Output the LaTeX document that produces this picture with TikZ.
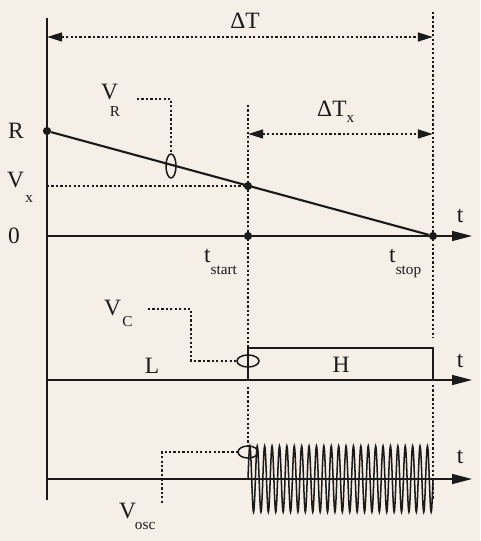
\documentclass[tikz,border=0pt]{standalone}
\usepackage{fontspec}
\setmainfont{Liberation Serif}
\usepackage{xcolor}
\usetikzlibrary{arrows.meta}
\definecolor{ink}{HTML}{1A1A1A}
\definecolor{paper}{HTML}{F6EFE8}
\newcommand{\lsub}[2]{\raisebox{-#1}{\fontsize{13}{13}\selectfont #2}}

\begin{document}
\begin{tikzpicture}[x=0.03cm,y=-0.03cm,ink,
  ax/.style={line width=1.2pt,-{Triangle[length=17pt,width=8.5pt]}},
  dots/.style={line width=1.9pt,dash pattern=on 1.9pt off 1.9pt},
  span/.style={dots,{Triangle[length=13pt,width=7.5pt]}-{Triangle[length=13pt,width=7.5pt]}},
  ramp/.style={line width=1.8pt},
  sig/.style={line width=1.2pt},
  ring/.style={line width=1.3pt},
  dotpt/.style={circle,fill=ink,inner sep=0pt,minimum size=7pt},
  lbl/.style={font=\fontsize{20}{22}\selectfont,inner sep=0pt}]
\fill[paper] (0,0) rectangle (480,541); \useasboundingbox (0,0) rectangle (480,541);
% named points
\coordinate (top) at (47,18); \coordinate (bot) at (47,500);
\node[dotpt] (pR) at (47,131) {}; \node[dotpt] (pX) at (248,186) {};
\node[dotpt] (p0) at (248,236) {}; \node[dotpt] (pS) at (433,236) {};
\coordinate (o1) at (47,236); \coordinate (e1) at (472,236);
\coordinate (o2) at (47,380); \coordinate (e2) at (472,380);
\coordinate (o3) at (47,479); \coordinate (e3) at (472,479);
% axes and ramp
\draw[sig] (top) -- (bot);
\draw[ax] (o1) -- (e1); \draw[ax] (o2) -- (e2); \draw[ax] (o3) -- (e3);
\draw[ramp] (pR) -- (pS);
\draw[dots] (47,186) -- (pX);
% time markers
\draw[dots] (433,12) -- (433,338); \draw[dots] (433,385) -- (433,500);
\draw[dots] (248,105) -- (248,348); \draw[dots] (248,387) -- (248,446);
\draw[span] (47,37) -- (433,37); \draw[span] (248,134) -- (433,134);
% V_R probe
\draw[ring] (171,166) ellipse (5 and 12);
\draw[dots] (137,99) -- (171,99) -- (171,153);
% control pulse
\draw[sig] (248,380) -- (248,348) -- (433,348) -- (433,380);
\draw[ring] (248,361) ellipse (11 and 6);
\draw[dots] (148,309) -- (191,309) -- (191,361) -- (237,361);
% oscillator burst
\draw[line width=1.3pt,domain=0:185,samples=601] plot ({248+\x},{479-33*sin(48.6486*\x)});
\draw[ring] (248,452) ellipse (10 and 6);
\draw[dots] (238,452) -- (162,452) -- (162,503);
% labels
\node[lbl] (dT) at (245,21) {ΔT};
\node[lbl,anchor=base west] (dTx) at (317,117) {ΔT\lsub{5pt}{x}};
\node[lbl,anchor=base west] (VR) at (101,100) {V\kern-7pt\lsub{14pt}{R}};
\node[lbl] (lR) at (16,131) {R};
\node[lbl,anchor=base west] (Vx) at (7,188) {V\kern1pt\lsub{12pt}{x}};
\node[lbl] (l0) at (14,236) {0};
\node[lbl,anchor=base west] (ts) at (204,262) {t\lsub{11pt}{start}};
\node[lbl,anchor=base west] (te) at (389,262) {t\lsub{11pt}{stop}};
\node[lbl,anchor=base west] (VC) at (104,315) {V\kern1pt\lsub{10pt}{C}};
\node[lbl,anchor=base west] (Vo) at (119,518) {V\kern-1pt\lsub{10pt}{osc}};
\node[lbl] (lL) at (152,366) {L}; \node[lbl] (lH) at (341,365) {H};
\node[lbl] (t1) at (460,216) {t}; \node[lbl] (t2) at (460,361) {t}; \node[lbl] (t3) at (460,457) {t};
\end{tikzpicture}
\end{document}
